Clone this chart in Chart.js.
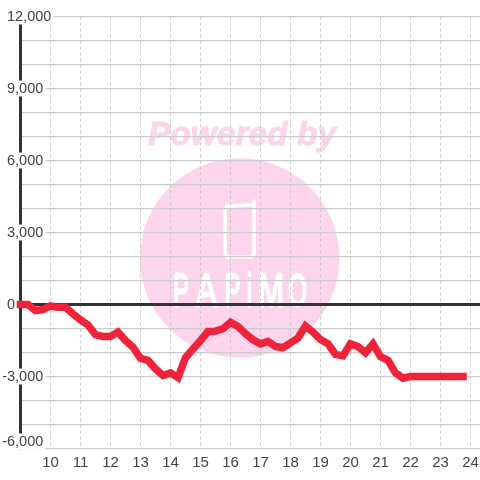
<!DOCTYPE html>
<html>
<head>
<meta charset="utf-8">
<style>
  html, body { margin: 0; padding: 0; background: #fff; }
  canvas { display: block; }
</style>
<script src="https://cdn.jsdelivr.net/npm/chart.js@4"></script>
</head>
<body>
<canvas class="myChart" width="480" height="480"></canvas>
<script>
// quarter-hour readings, 9:00 to 23:45
const hours = [
  9, 9.25, 9.5, 9.75, 10, 10.25, 10.5, 10.75, 11, 11.25, 11.5, 11.75,
  12, 12.25, 12.5, 12.75, 13, 13.25, 13.5, 13.75, 14, 14.25, 14.5, 14.75,
  15, 15.25, 15.5, 15.75, 16, 16.25, 16.5, 16.75, 17, 17.25, 17.5, 17.75,
  18, 18.25, 18.5, 18.75, 19, 19.25, 19.5, 19.75, 20, 20.25, 20.5, 20.75,
  21, 21.25, 21.5, 21.75, 22, 22.25, 22.5, 22.75, 23, 23.25, 23.5, 23.75,
];
const values = [
  0, 0, -250, -210, -60, -110, -110, -390, -640, -850, -1260, -1330,
  -1330, -1150, -1500, -1780, -2240, -2330, -2680, -2960, -2850, -3050, -2220, -1850,
  -1500, -1125, -1110, -1010, -740, -920, -1220, -1470, -1640, -1540, -1750, -1800,
  -1600, -1400, -900, -1150, -1460, -1640, -2080, -2140, -1640, -1750, -2010, -1640,
  -2170, -2330, -2850, -3070, -3000, -3000, -3000, -3000, -3000, -3000, -3000, -3000,
];
const xTicks = [10, 11, 12, 13, 14, 15, 16, 17, 18, 19, 20, 21, 22, 23, 24];
const yLabelled = [12000, 9000, 6000, 3000, 0, -3000, -6000];
const logoLetters = ["P", "A", "P", "i", "M", "O"];
const logoLetterX = [181, 206.5, 232.5, 249.5, 271, 297.5];

const fontName = '"Liberation Sans", Arial, sans-serif';
const pink = "#fcd5ec";

// pink badge behind the grid
const watermark = {
  id: "watermark",
  beforeDraw(chart) {
    const c = chart.ctx;
    c.save();
    c.fillStyle = "#fff";
    c.fillRect(0, 0, chart.width, chart.height);

    c.fillStyle = pink;
    c.strokeStyle = pink;
    c.lineWidth = 1;
    c.font = "italic bold 33.5px " + fontName;
    c.textAlign = "center";
    c.textBaseline = "alphabetic";
    c.fillText("Powered by", 242, 145);
    c.strokeText("Powered by", 242, 145);

    c.beginPath();
    c.arc(239.7, 258, 99.7, 0, Math.PI * 2);
    c.fill();

    // phone outline
    c.strokeStyle = "#fff";
    c.lineWidth = 3.5;
    c.lineJoin = "round";
    c.lineCap = "round";
    c.beginPath();
    c.moveTo(254, 201);
    c.lineTo(254, 253);
    c.quadraticCurveTo(254, 257, 250, 257);
    c.lineTo(229, 257);
    c.quadraticCurveTo(225, 257, 225, 253);
    c.lineTo(225, 210);
    c.quadraticCurveTo(225, 206, 229, 206);
    c.lineTo(251, 205);
    c.stroke();

    c.fillStyle = "#fff";
    c.lineWidth = 2.4;
    c.font = "46px " + fontName;
    logoLetters.forEach((letter, i) => {
      c.save();
      c.translate(logoLetterX[i], 306);
      c.scale(letter === "A" || letter === "M" ? 0.68 : 0.52, 1);
      c.fillText(letter, 0, 0);
      c.strokeText(letter, 0, 0);
      c.restore();
    });
    c.restore();
  },
};

// y labels sit on a white box over the axis, left aligned at the digits
const yLabels = {
  id: "yLabels",
  beforeDatasetsDraw(chart) {
    const c = chart.ctx;
    const scale = chart.scales.y;
    c.save();
    c.font = "14.5px " + fontName;
    c.textBaseline = "middle";
    c.textAlign = "left";
    scale.ticks.forEach((tick) => {
      if (!tick.label) return;
      // the bottom label is pushed up to stay inside the plot
      const y = scale.getPixelForValue(tick.value) - (tick.value === scale.min ? 7 : 0);
      const w = c.measureText(tick.label).width;
      const dash = tick.value < 0 ? c.measureText("-").width : 0;
      const left = 7 - dash;
      if (tick.value !== 0) {
        c.fillStyle = "#fff";
        c.fillRect(left - 1, y - 8, w + 3, 16);
      }
      c.fillStyle = "#444";
      c.fillText(tick.label, left, y + 0.5);
    });
    c.restore();
  },
};

const ctx = document.querySelector(".myChart").getContext("2d");
const myChart = new Chart(ctx, {
  type: "line",
  data: {
    datasets: [
      {
        data: hours.map((h, i) => ({ x: h, y: values[i] })),
        borderColor: "#ef233a",
        borderWidth: 7.5,
        borderCapStyle: "square",
        borderJoinStyle: "miter",
        pointRadius: 0,
        tension: 0,
        clip: false,
      },
    ],
  },
  plugins: [watermark, yLabels],
  options: {
    responsive: false,
    animation: false,
    layout: { padding: { top: 16.5, left: 0, right: 0, bottom: 0 } },
    plugins: { legend: { display: false }, tooltip: { enabled: false } },
    scales: {
      x: {
        type: "linear",
        min: 9,
        max: 24.317,
        afterBuildTicks(axis) {
          axis.ticks = xTicks.map((v) => ({ value: v }));
        },
        afterFit(axis) {
          axis.height = 31.5;
          axis.paddingLeft = 0;
          axis.paddingRight = 0;
        },
        border: { display: false, dash: [3, 3] },
        grid: { color: "#c8c8c8", lineWidth: 1, drawTicks: false, tickLength: 0 },
        ticks: {
          color: "#444",
          font: { family: fontName, size: 15 },
          padding: 5,
          maxRotation: 0,
          autoSkip: false,
        },
      },
      y: {
        min: -6000,
        max: 12000,
        afterFit(axis) {
          axis.width = 20.5;
        },
        border: { display: true, color: "#333", width: 3 },
        grid: {
          color: (c) => (c.tick.value === 0 ? "#333" : "#ccc"),
          lineWidth: (c) => (c.tick.value === 0 ? 3 : 1.3),
          drawTicks: false,
          tickLength: 0,
        },
        ticks: {
          display: false,
          stepSize: 1000,
          callback: (v) => (yLabelled.includes(v) ? v.toLocaleString("en-US") : ""),
        },
      },
    },
  },
});
</script>
</body>
</html>
